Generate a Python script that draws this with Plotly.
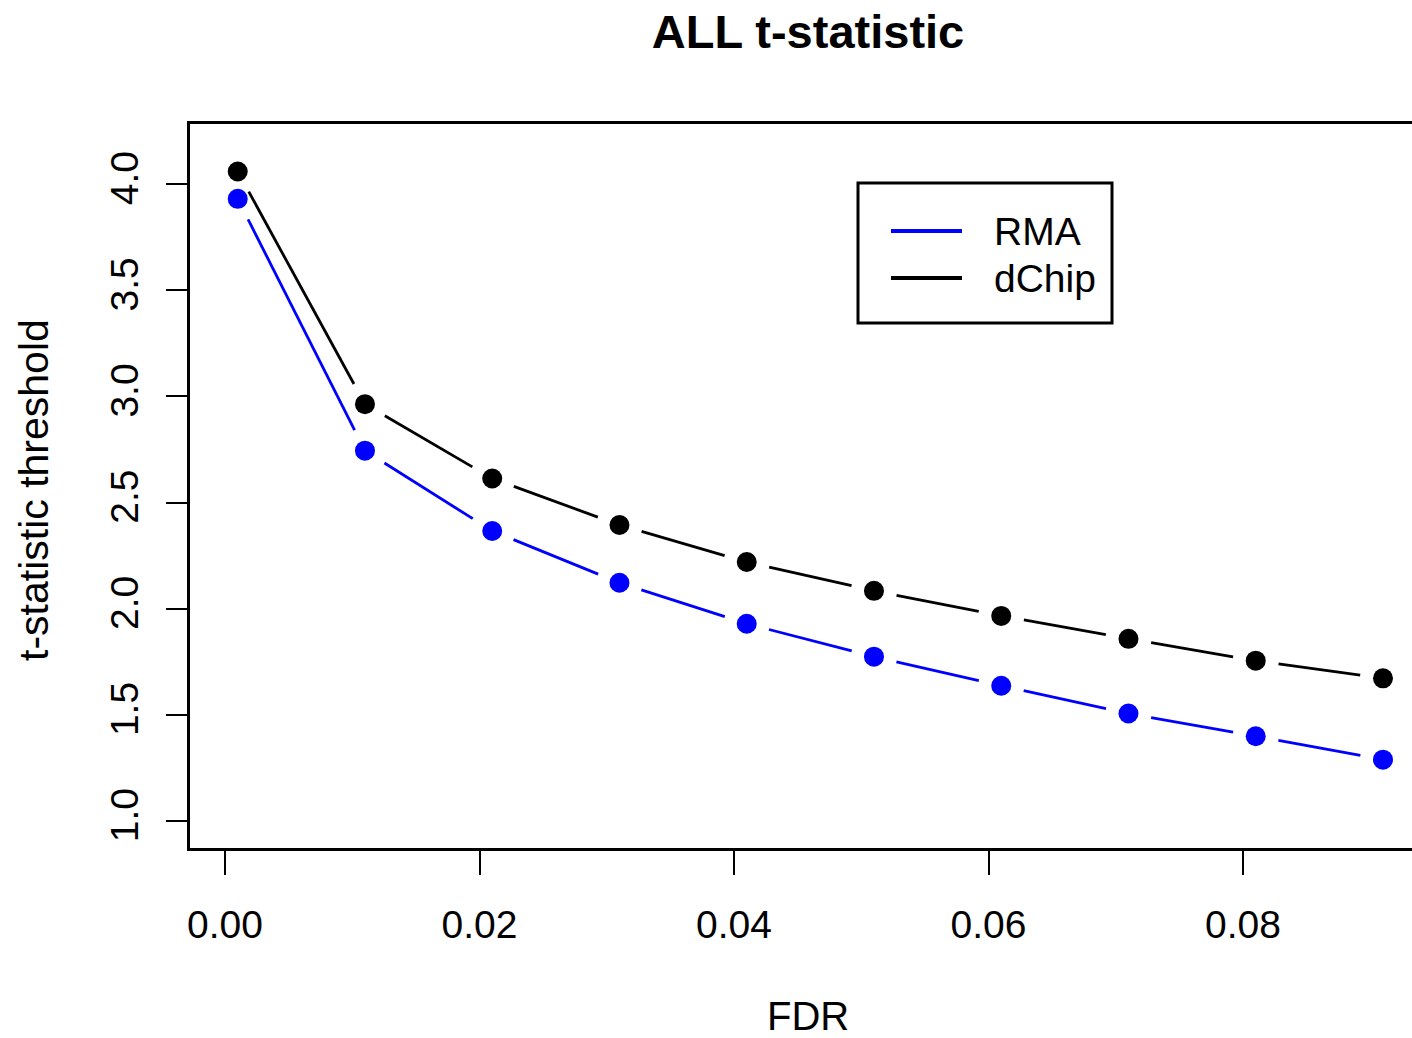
import math
import plotly.graph_objects as go

# ---------------- data ----------------
FDR = [0.001, 0.011, 0.021, 0.031, 0.041, 0.051, 0.061, 0.071, 0.081, 0.091]
RMA = [3.930, 2.744, 2.366, 2.122, 1.929, 1.774, 1.637, 1.506, 1.399, 1.289]
DCHIP = [4.059, 2.963, 2.613, 2.394, 2.220, 2.084, 1.966, 1.858, 1.755, 1.672]
SERIES_NAMES = ["RMA", "dChip"]
X_TICKS = [0.0, 0.02, 0.04, 0.06, 0.08]
X_TICK_LABELS = ["0.00", "0.02", "0.04", "0.06", "0.08"]
Y_TICKS = [1.0, 1.5, 2.0, 2.5, 3.0, 3.5, 4.0]
Y_TICK_LABELS = ["1.0", "1.5", "2.0", "2.5", "3.0", "3.5", "4.0"]

# ---------------- layout constants ----------------
W, H = 1412, 1038
ML, MR, MT, MB = 190, 0, 124, 1038 - 848
PW, PH = W - ML - MR, H - MT - MB
XR = [-0.00275, 0.09328]
YR = [0.8728, 4.2826]
FONT = "Liberation Sans, Arial, Helvetica, sans-serif"
FS = 39


def px_to_paper(px, py):
    """figure pixel -> paper coords"""
    return (px - ML) / PW, (MT + PH - py) / PH


def gapped(xs, ys, gap=23.0):
    """R type='b' style: line segments leave a gap around each point."""
    sx = PW / (XR[1] - XR[0])
    sy = PH / (YR[1] - YR[0])
    ox, oy = [], []
    for i in range(len(xs) - 1):
        x0, y0 = xs[i] * sx, ys[i] * sy
        x1, y1 = xs[i + 1] * sx, ys[i + 1] * sy
        d = math.hypot(x1 - x0, y1 - y0)
        if d <= 2 * gap:
            continue
        ux, uy = (x1 - x0) / d, (y1 - y0) / d
        ox += [(x0 + ux * gap) / sx, (x1 - ux * gap) / sx, None]
        oy += [(y0 + uy * gap) / sy, (y1 - uy * gap) / sy, None]
    return ox, oy


fig = go.Figure()
for name, ys, col in [(SERIES_NAMES[0], RMA, "#0000ff"), (SERIES_NAMES[1], DCHIP, "#000000")]:
    gx, gy = gapped(FDR, ys)
    fig.add_trace(go.Scatter(x=gx, y=gy, mode="lines", line=dict(color=col, width=2.8),
                             showlegend=False, hoverinfo="skip", name=name))
    fig.add_trace(go.Scatter(x=FDR, y=ys, mode="markers", name=name,
                             marker=dict(color=col, size=20, line=dict(width=0)),
                             showlegend=False, cliponaxis=False))

fig.update_layout(
    width=W, height=H,
    margin=dict(l=ML, r=MR, t=MT, b=MB, pad=0),
    paper_bgcolor="white", plot_bgcolor="white",
    font=dict(family=FONT, size=FS, color="black"),
    title=dict(text="<b>ALL t-statistic</b>", x=808 / W, y=1 - 32 / H,
               xref="container", yref="container", xanchor="center", yanchor="middle",
               font=dict(family=FONT, size=47, color="black")),
    xaxis=dict(range=XR, tickvals=X_TICKS, ticktext=X_TICK_LABELS, showgrid=False,
               zeroline=False, showline=True, linecolor="black", linewidth=3, mirror=True,
               ticks="outside", ticklen=24, tickwidth=1.5, tickcolor="black",
               tickfont=dict(size=FS), ticklabelstandoff=16),
    yaxis=dict(range=YR, tickvals=Y_TICKS, ticktext=Y_TICK_LABELS, showgrid=False,
               zeroline=False, showline=True, linecolor="black", linewidth=3, mirror=False,
               ticks="outside", ticklen=21, tickwidth=1.5, tickcolor="black",
               tickangle=-90, tickfont=dict(size=FS), ticklabelstandoff=12),
)

# axis titles
fx, fy = px_to_paper(808, 1016)
fig.add_annotation(text="FDR", x=fx, y=fy, xref="paper", yref="paper", showarrow=False,
                   xanchor="center", yanchor="middle", font=dict(size=FS + 1))
tx, ty = px_to_paper(34, 490)
fig.add_annotation(text="t-statistic threshold", x=tx, y=ty, xref="paper", yref="paper",
                   showarrow=False, textangle=-90, xanchor="center", yanchor="middle",
                   font=dict(size=FS + 2))

# legend (R-style box with line samples)
bx0, by0 = px_to_paper(858, 323)
bx1, by1 = px_to_paper(1112, 183)
fig.add_shape(type="rect", xref="paper", yref="paper", x0=bx0, y0=by0, x1=bx1, y1=by1,
              line=dict(color="black", width=3), fillcolor="white", layer="above")
for name, col, ly in [(SERIES_NAMES[0], "#0000ff", 231), (SERIES_NAMES[1], "#000000", 278)]:
    lx0, lyp = px_to_paper(891, ly)
    lx1, _ = px_to_paper(962, ly)
    fig.add_shape(type="line", xref="paper", yref="paper", x0=lx0, y0=lyp, x1=lx1, y1=lyp,
                  line=dict(color=col, width=4), layer="above")
    tx0, _ = px_to_paper(992, ly)
    fig.add_annotation(text=name, x=tx0, y=lyp, xref="paper", yref="paper", showarrow=False,
                       xanchor="left", yanchor="middle", font=dict(size=FS))

fig.write_html("out.html", config={"displayModeBar": False},
               post_script="document.body.style.margin='0';")
